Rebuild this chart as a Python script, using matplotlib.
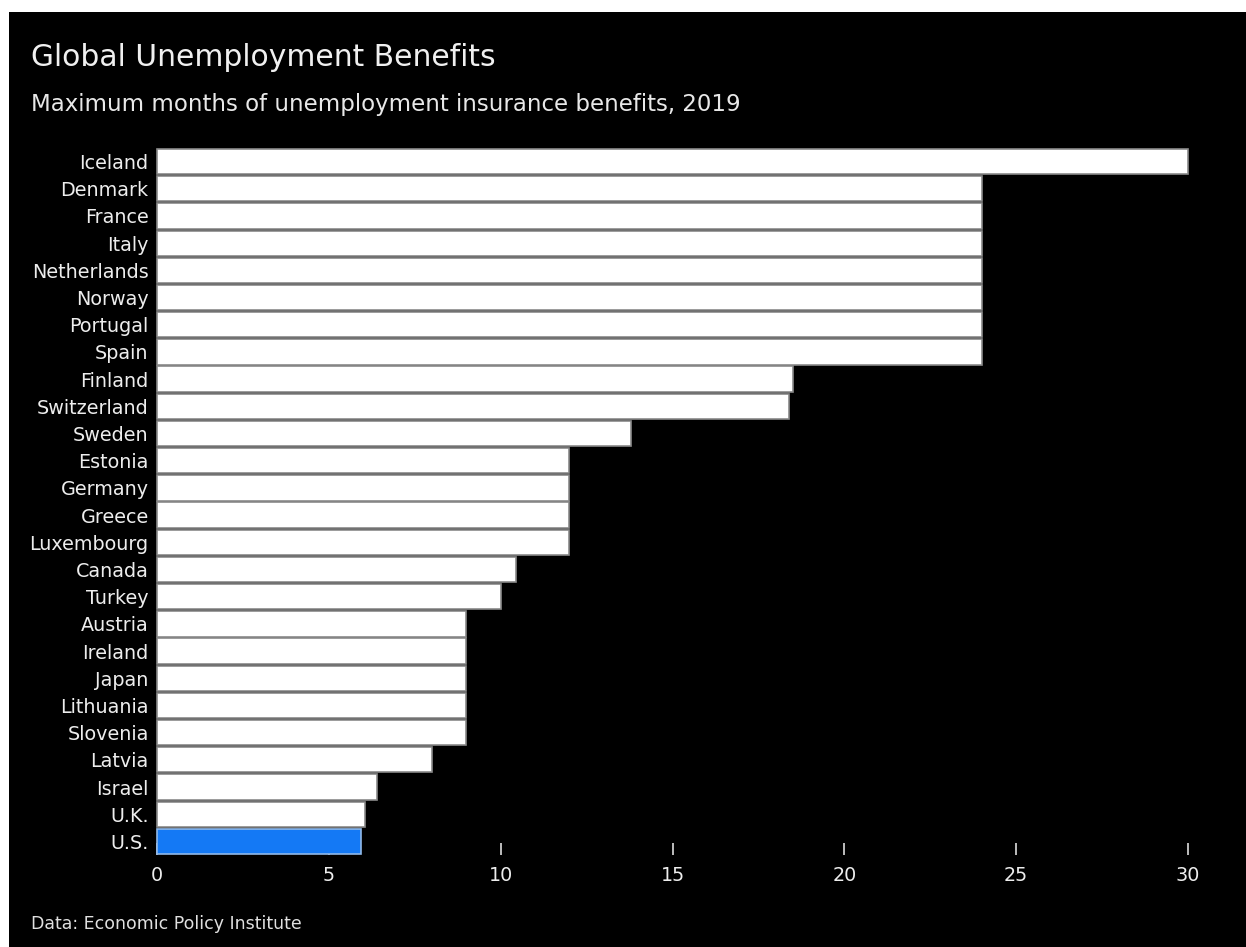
import matplotlib
matplotlib.use("Agg")
import matplotlib.pyplot as plt
from matplotlib.patches import Rectangle

countries = ["Iceland", "Denmark", "France", "Italy", "Netherlands", "Norway",
             "Portugal", "Spain", "Finland", "Switzerland", "Sweden", "Estonia",
             "Germany", "Greece", "Luxembourg", "Canada", "Turkey", "Austria",
             "Ireland", "Japan", "Lithuania", "Slovenia", "Latvia", "Israel",
             "U.K.", "U.S."]
months = [30, 24, 24, 24, 24, 24, 24, 24, 18.5, 18.4, 13.8, 12, 12, 12, 12,
          10.45, 10, 9, 9, 9, 9, 9, 8, 6.4, 6.05, 5.93]
highlight = "U.S."
xticks = [0, 5, 10, 15, 20, 25, 30]

title = "Global Unemployment Benefits"
subtitle = "Maximum months of unemployment insurance benefits, 2019"
source = "Data: Economic Policy Institute"

plt.rcParams['font.family'] = ['DejaVu Sans']
W, H = 1246, 947
fig = plt.figure(figsize=(W / 100, H / 100), dpi=100, facecolor="white")
bg = Rectangle((9 / W, 0), 1 - 9 / W, 1 - 12 / H, transform=fig.transFigure,
               facecolor="black", edgecolor="none", zorder=-10)
fig.add_artist(bg)

left, right = 157 / W, 1188 / W
top, bottom = 148 / H, 855 / H
ax = fig.add_axes([left, 1 - bottom, right - left, bottom - top])
ax.set_facecolor("none")
ax.set_zorder(1)

colors = ["#1479f5" if c == highlight else "white" for c in countries]
edges = ["#8fb8e8" if c == highlight else "#8a8a8a" for c in countries]
ypos = list(range(len(countries)))
ax.barh(ypos, months, height=0.93, color=colors, edgecolor=edges,
        linewidth=1.2, zorder=3, clip_on=False)
ax.set_ylim(len(countries) - 0.5, -0.5)
ax.set_xlim(0, 30)
ax.set_yticks(ypos)
ax.set_yticklabels(countries)
ax.set_xticks(xticks)
ax.set_xticklabels([str(t) for t in xticks])
for s in ax.spines.values():
    s.set_visible(False)
ax.tick_params(axis="y", length=0, pad=6, labelsize=13.8, labelcolor="#ededed")
ax.tick_params(axis="x", direction="in", length=9, width=1.2, color="#dddddd",
               pad=8, labelsize=13.8, labelcolor="#ededed")

fig.text(31 / W, 1 - 58 / H, title, color="#f0f0f0", fontsize=21.4, va="center",
         ha="left")
fig.text(31 / W, 1 - 104 / H, subtitle, color="#e8e8e8", fontsize=16.5,
         va="center", ha="left")
fig.text(31 / W, 1 - 924 / H, source, color="#e0e0e0", fontsize=12.5,
         va="center", ha="left")

fig.savefig("out.png", dpi=100, facecolor="white")
